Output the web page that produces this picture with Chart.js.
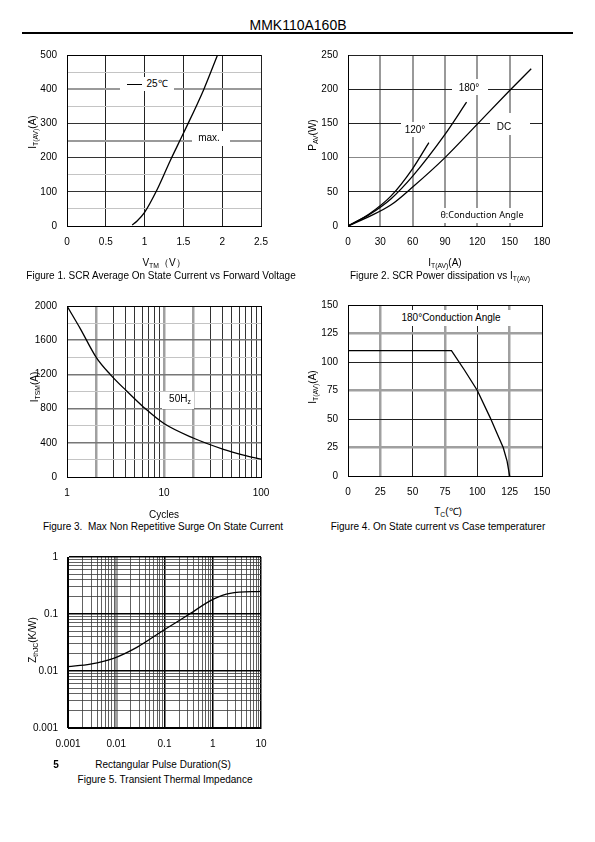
<!DOCTYPE html>
<html>
<head>
<meta charset="utf-8">
<script src="https://cdn.jsdelivr.net/npm/chart.js@4.4.0/dist/chart.umd.min.js"></script>
<style>
body { margin:0; width:595px; height:842px; background:#fff; position:relative; overflow:hidden;
  font-family:"Liberation Sans", Arial, sans-serif; color:#000; }
canvas { position:absolute; }
.t { position:absolute; transform:translate(-50%,-50%); white-space:nowrap; font-size:10px; line-height:1; z-index:3; }
.yt { transform:translate(-50%,-50%) rotate(-90deg); }
.box { position:absolute; background:#fff; z-index:2; }
sub { font-size:0.68em; vertical-align:-0.35em; line-height:0; }
</style>
</head>
<body>
<div class="t" style="left:298px;top:25px;font-size:14px">MMK110A160B</div>
<div style="position:absolute;left:22px;top:32px;width:551px;height:2px;background:#000"></div>

<canvas id="c1" width="281" height="212" style="left:0;top:39px"></canvas>
<canvas id="c2" width="290" height="212" style="left:290px;top:39px"></canvas>
<canvas id="c3" width="281" height="212" style="left:0;top:290px"></canvas>
<canvas id="c4" width="290" height="212" style="left:290px;top:289px"></canvas>
<canvas id="c5" width="281" height="212" style="left:0;top:541px"></canvas>

<!-- figure 1 -->
<div class="box" style="left:120px;top:77px;width:54px;height:14px"></div>
<div style="position:absolute;left:127px;top:84px;width:15px;height:1px;background:#000;z-index:3"></div>
<div class="t" style="left:157px;top:84px">25℃</div>
<div class="box" style="left:192px;top:131px;width:38px;height:15px"></div>
<div class="t" style="left:209px;top:138px">max.</div>
<div class="t yt" style="left:33px;top:132px">I<sub>T(AV)</sub>(A)</div>
<div class="t" style="left:164px;top:263px">V<sub>TM</sub>（V）</div>
<div class="t" style="left:161px;top:276px">Figure 1. SCR Average On State Current vs Forward Voltage</div>

<!-- figure 2 -->
<div class="box" style="left:452px;top:79px;width:36px;height:16px"></div>
<div class="t" style="left:469px;top:88px">180°</div>
<div class="box" style="left:401px;top:122px;width:28px;height:15px"></div>
<div class="t" style="left:415px;top:130px">120°</div>
<div class="box" style="left:490px;top:113px;width:40px;height:22px"></div>
<div class="t" style="left:504px;top:127px">DC</div>
<div class="box" style="left:435px;top:208px;width:95px;height:15px"></div>
<div class="t" style="left:482px;top:214px;font-family:'Noto Sans';font-size:9px">θ:Conduction Angle</div>
<div class="t yt" style="left:313px;top:135px">P<sub>AV</sub>(W)</div>
<div class="t" style="left:445px;top:263px">I<sub>T(AV)</sub>(A)</div>
<div class="t" style="left:440px;top:276px">Figure 2. SCR Power dissipation vs I<sub>T(AV)</sub></div>

<!-- figure 3 -->
<div class="box" style="left:162px;top:392px;width:32px;height:17px"></div>
<div class="t" style="left:180px;top:399px">50H<sub>z</sub></div>
<div class="t yt" style="left:35px;top:387px">I<sub>TSM</sub>(A)</div>
<div class="t" style="left:164px;top:515px">Cycles</div>
<div class="t" style="left:163px;top:527px">Figure 3.&nbsp; Max Non Repetitive Surge On State Current</div>

<!-- figure 4 -->
<div class="box" style="left:384px;top:310px;width:157px;height:16px"></div>
<div class="t" style="left:451px;top:318px">180°Conduction Angle</div>
<div class="t yt" style="left:313px;top:387px">I<sub>T(AV)</sub>(A)</div>
<div class="t" style="left:448px;top:512px">T<sub>C</sub>(℃)</div>
<div class="t" style="left:438px;top:527px">Figure 4. On State current vs Case temperaturer</div>

<!-- figure 5 -->
<div class="t yt" style="left:33px;top:640px">Z<sub>thJC</sub>(K/W)</div>
<div class="t" style="left:56px;top:765px;font-weight:bold">5</div>
<div class="t" style="left:163px;top:765px">Rectangular Pulse Duration(S)</div>
<div class="t" style="left:165px;top:780px">Figure 5. Transient Thermal Impedance</div>

<script>
// Figure 1: forward voltage vs on-state current
const fig1Volt = [0.84, 0.9, 1.0, 1.16, 1.33, 1.5, 1.76, 1.94];
const fig1Curr = [3, 14, 40, 106, 191, 271, 398, 500];

// Figure 2: power dissipation per conduction angle
const fig2Curr120 = [0, 20, 40, 60, 75];
const fig2Pwr120 = [0, 18, 44, 84, 122];
const fig2Curr180 = [0, 20, 40, 60, 90, 110];
const fig2Pwr180 = [0, 17, 40, 73, 134, 181];
const fig2CurrDC = [0, 20, 40, 60, 90, 120, 150, 170];
const fig2PwrDC = [0, 14, 31, 57, 100, 149, 198, 230];

// Figure 3: surge current vs cycles
const fig3Cycles = [1, 1.37, 2, 2.8, 4.15, 6.2, 10, 20, 41, 66, 100];
const fig3Surge = [2000, 1736, 1400, 1198, 1002, 814, 625, 456, 324, 256, 208];
const fig3XMajor = [1, 10, 100];

// Figure 4: current vs case temperature
const fig4Temp = [0, 80, 90, 100, 110, 115, 120, 123, 125];
const fig4Curr = [110, 110, 93, 75, 51, 38, 25, 13, 0];

// Figure 5: transient thermal impedance
const fig5Time = [0.001, 0.0029, 0.0088, 0.0267, 0.095, 0.29, 1.03, 2.29, 10];
const fig5Zth = [0.0119, 0.0132, 0.0167, 0.026, 0.0518, 0.093, 0.182, 0.231, 0.249];
const fig5XMajor = [0.001, 0.01, 0.1, 1, 10];
const fig5YMajor = [0.001, 0.01, 0.1, 1];

const tickFont = { family: 'Liberation Sans', size: 10 };

function pairs(xs, ys) {
  return xs.map((x, i) => ({ x: x, y: ys[i] }));
}

function curve(xs, ys, mode) {
  return {
    data: pairs(xs, ys),
    borderColor: '#000',
    borderWidth: 1.3,
    pointRadius: 0,
    fill: false,
    cubicInterpolationMode: mode || 'monotone',
    tension: 0
  };
}

// minor ticks 1..9 inside each decade
function logTicks(majors) {
  const out = [];
  majors.forEach((d, i) => {
    if (i === majors.length - 1) { out.push(d); return; }
    for (let m = 1; m < 10; m++) out.push(+(m * d).toPrecision(6));
  });
  return out.map(v => ({ value: v }));
}

function isPow10(v) {
  const l = Math.log10(v);
  return Math.abs(l - Math.round(l)) < 1e-9;
}

function axis(opts, size, horizontal) {
  const a = Object.assign({
    border: { color: '#000', width: 1 },
    afterFit: s => { if (horizontal) s.height = size; else s.width = size; }
  }, opts);
  a.ticks = Object.assign({ color: '#000', font: tickFont, maxRotation: 0, autoSkip: false,
    padding: horizontal ? 10 : 10, callback: v => String(+v.toFixed(3)) }, opts.ticks);
  a.grid = Object.assign({ drawTicks: false }, opts.grid);
  return a;
}

function makeChart(id, datasets, xs, ys, pad) {
  return new Chart(document.getElementById(id), {
    type: 'line',
    data: { datasets: datasets },
    options: {
      responsive: false,
      animation: false,
      devicePixelRatio: 1,
      layout: { padding: pad },
      plugins: { legend: { display: false }, tooltip: { enabled: false } },
      scales: { x: xs, y: ys }
    }
  });
}

// Figure 1
makeChart('c1', [curve(fig1Volt, fig1Curr)],
  axis({ type: 'linear', min: 0, max: 2.5, ticks: { stepSize: 0.5 },
    grid: { color: '#222', lineWidth: 1 } }, 25, true),
  axis({ type: 'linear', min: 0, max: 500,
    ticks: { stepSize: 50, callback: v => v % 100 === 0 ? v : '' },
    grid: {
      color: c => {
        const v = c.tick.value;
        if (v === 0 || v === 500) return '#000';
        if (v === 400 || v === 250) return '#9a9a9a';
        if (v % 100 === 0) return '#333';
        return '#c4c4c4';
      },
      lineWidth: c => (c.tick.value === 400 || c.tick.value === 250) ? 2 : 1
    } }, 67, false),
  { top: 10, right: 20, left: 0, bottom: 0 });

// Figure 2
makeChart('c2', [curve(fig2Curr120, fig2Pwr120), curve(fig2Curr180, fig2Pwr180), curve(fig2CurrDC, fig2PwrDC)],
  axis({ type: 'linear', min: 0, max: 180, ticks: { stepSize: 30 },
    grid: {
      color: c => (c.tick.value === 0 || c.tick.value === 180) ? '#000' : '#999',
      lineWidth: c => (c.tick.value === 0 || c.tick.value === 180) ? 1 : 2
    } }, 25, true),
  axis({ type: 'linear', min: 0, max: 250, ticks: { stepSize: 50 },
    grid: { color: c => (c.tick.value === 100) ? '#888' : '#222', lineWidth: 1 } }, 58, false),
  { top: 10, right: 38, left: 0, bottom: 0 });

// Figure 3
makeChart('c3', [curve(fig3Cycles, fig3Surge)],
  axis({ type: 'logarithmic', min: 1, max: 100,
    afterBuildTicks: s => { s.ticks = logTicks(fig3XMajor); },
    ticks: { callback: v => fig3XMajor.includes(v) ? String(v) : '' },
    grid: {
      color: c => {
        const v = c.tick.value;
        if (v === 1 || v === 100) return '#000';
        if (v === 2 || v === 10 || v === 20) return '#a0a0a0';
        return '#333';
      },
      lineWidth: c => [2, 10, 20].includes(c.tick.value) ? 2.5 : 1
    } }, 25, true),
  axis({ type: 'linear', min: 0, max: 2000,
    ticks: { stepSize: 200, callback: v => v % 400 === 0 ? v : '' },
    grid: {
      color: c => {
        const v = c.tick.value;
        if (v === 0 || v === 2000) return '#000';
        if (v % 400 === 0) return '#777';
        return '#c4c4c4';
      },
      lineWidth: c => (c.tick.value % 400 === 0 && c.tick.value > 0 && c.tick.value < 2000) ? 1.5 : 1
    } }, 67, false),
  { top: 10, right: 20, left: 0, bottom: 0 });

// Figure 4
const grid4 = {
  color: c => {
    const v = c.tick.value;
    if (v === 0 || v === 150) return '#000';
    return (v % 50 === 25) ? '#a0a0a0' : '#222';
  },
  lineWidth: c => (c.tick.value % 50 === 25) ? 2.5 : 1
};
makeChart('c4', [curve(fig4Temp, fig4Curr, 'default')],
  axis({ type: 'linear', min: 0, max: 150, ticks: { stepSize: 25 }, grid: grid4 }, 25, true),
  axis({ type: 'linear', min: 0, max: 150, ticks: { stepSize: 25 }, grid: grid4 }, 58, false),
  { top: 10, right: 38, left: 0, bottom: 0 });

// Figure 5
makeChart('c5', [curve(fig5Time, fig5Zth)],
  axis({ type: 'logarithmic', min: 0.001, max: 10,
    afterBuildTicks: s => { s.ticks = logTicks(fig5XMajor); },
    ticks: { callback: v => fig5XMajor.includes(v) ? String(v) : '' },
    grid: {
      color: c => {
        const v = c.tick.value;
        if (v === 0.01) return '#a0a0a0';
        return isPow10(v) ? '#000' : '#3a3a3a';
      },
      lineWidth: c => {
        const v = c.tick.value;
        if (v === 0.01) return 3;
        return isPow10(v) ? 1.5 : 0.8;
      }
    } }, 25, true),
  axis({ type: 'logarithmic', min: 0.001, max: 1,
    afterBuildTicks: s => { s.ticks = logTicks(fig5YMajor); },
    ticks: { callback: v => fig5YMajor.includes(v) ? String(v) : '' },
    grid: {
      color: c => isPow10(c.tick.value) ? '#000' : '#3a3a3a',
      lineWidth: c => isPow10(c.tick.value) ? 1.5 : 0.8
    } }, 68, false),
  { top: 10, right: 20, left: 0, bottom: 0 });
</script>
</body>
</html>
